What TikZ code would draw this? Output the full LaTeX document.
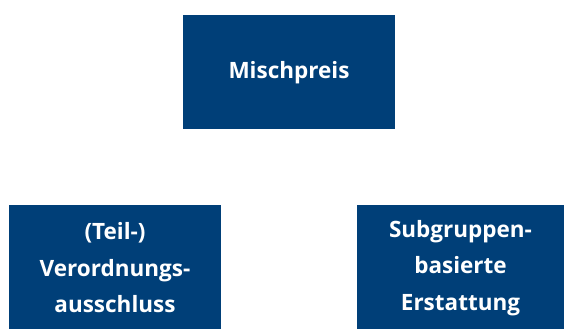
\documentclass[tikz,border=0pt]{standalone}
\usepackage{fontspec}
\setmainfont{Open Sans}
\definecolor{boxblue}{HTML}{003F78}
\begin{document}
\begin{tikzpicture}[x=1pt,y=-1pt,
  boxtext/.style={text=white, align=center,
    font=\bfseries\fontsize{22.5}{36.5}\selectfont, inner sep=0pt}]
\useasboundingbox (0,0) rectangle (564,329);
% top box
\fill[boxblue] (183,15) rectangle (395,129);
\node[boxtext] (top) at (289,73) {Mischpreis};
% bottom-left box
\fill[boxblue] (9,205) rectangle (221,329);
\node[boxtext] (left) at (115,268) {(Teil-)\\Verordnungs-\\ausschluss};
% bottom-right box
\fill[boxblue] (357,205) rectangle (564,329);
\node[boxtext] (right) at (460.5,268) {Subgruppen-\\basierte\\Erstattung};
\end{tikzpicture}
\end{document}
